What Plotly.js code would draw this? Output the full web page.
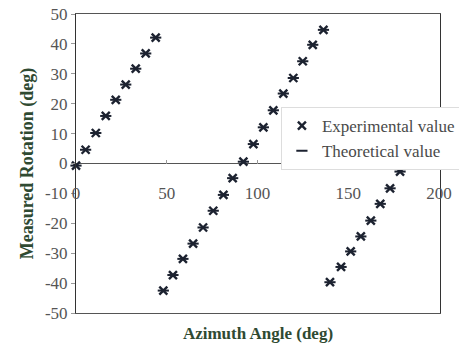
<!DOCTYPE html>
<html><head><meta charset="utf-8">
<script src="https://cdn.plot.ly/plotly-3.0.1.min.js"></script>
<style>html,body{margin:0;padding:0;background:#fff}#chart{width:459px;height:357px}</style>
</head><body><div id="chart"></div>
<script>
var azimuth = [0, 5.3, 10.9, 16.4, 21.9, 27.4, 32.9, 38.4, 43.9, 48.1, 53.4, 58.9, 64.5, 70.0, 75.6, 81.2, 86.3, 92.2, 97.7, 103.2, 108.7, 114.2, 119.7, 124.9, 130.4, 136.3, 139.9, 146.0, 151.3, 156.9, 162.4, 167.6, 173.0, 178.5];
var experimental = [-0.7, 4.6, 10.2, 15.9, 21.3, 26.4, 31.7, 36.8, 42.1, -42.5, -37.3, -31.9, -26.8, -21.4, -15.8, -10.5, -4.9, 0.6, 6.5, 12.1, 17.8, 23.4, 28.6, 34.2, 39.7, 44.7, -39.7, -34.6, -29.4, -24.4, -19.1, -13.5, -8.3, -2.7];
var theoretical = [-0.7, 4.6, 10.2, 15.9, 21.3, 26.4, 31.7, 36.8, 42.1, -42.5, -37.3, -31.9, -26.8, -21.4, -15.8, -10.5, -4.9, 0.6, 6.5, 12.1, 17.8, 23.4, 28.6, 34.2, 39.7, 44.7, -39.7, -34.6, -29.4, -24.4, -19.1, -13.5, -8.3, -2.7];
var xTicks = [0, 50, 100, 150, 200];
var yTicks = [-50, -40, -30, -20, -10, 0, 10, 20, 30, 40, 50];

var serif = "'Liberation Serif'";
var titleColor = '#2f4a32';
var traces = [
  {x: azimuth, y: experimental, name: 'Experimental value', type: 'scatter', mode: 'markers',
   xaxis: 'x2', yaxis: 'y', cliponaxis: false,
   marker: {symbol: 'x-thin-open', size: 8, color: '#1c2230', line: {width: 2.4, color: '#1c2230'}}},
  {x: azimuth, y: theoretical, name: 'Theoretical value', type: 'scatter', mode: 'markers',
   xaxis: 'x', yaxis: 'y', cliponaxis: false,
   marker: {symbol: 'line-ew-open', size: 8, color: '#1c2230', line: {width: 2, color: '#1c2230'}}}
];
var layout = {
  width: 459, height: 357,
  margin: {l: 76, r: 19, t: 14, b: 44, autoexpand: false},
  paper_bgcolor: '#fff', plot_bgcolor: '#fff',
  font: {family: serif, size: 17, color: '#555'},
  showlegend: true,
  legend: {xref: 'container', yref: 'container', x: 0.612, y: 0.70, xanchor: 'left', yanchor: 'top', bgcolor: '#fff',
           bordercolor: '#ddd', borderwidth: 1, font: {family: serif, size: 17, color: '#4a4a4a'},
           itemwidth: 30, tracegroupgap: 0},
  xaxis: {range: [0, 200.5], showgrid: false, zeroline: false, showline: true, mirror: true,
          linecolor: '#555', linewidth: 1, ticks: '', showticklabels: false,
          title: {text: 'Azimuth Angle (deg)', font: {family: serif, size: 17, color: titleColor, weight: 'bold'}, standoff: 14}},
  xaxis2: {range: [0, 200.5], overlaying: 'x', anchor: 'free', position: 0.5, side: 'bottom',
           showgrid: false, zeroline: false, showline: false,
           tickvals: xTicks, ticktext: xTicks.map(String), ticks: 'inside', ticklen: 4, tickcolor: '#999',
           ticklabelstandoff: 17, tickfont: {family: serif, size: 17, color: '#555'}},
  yaxis: {range: [-50, 50], showgrid: false, zeroline: true, zerolinecolor: '#555', zerolinewidth: 1,
          showline: true, mirror: true, linecolor: '#333', linewidth: 1,
          tickvals: yTicks, ticktext: yTicks.map(String), ticks: 'outside', ticklen: 4, tickcolor: '#999',
          tickfont: {family: serif, size: 17, color: '#555'},
          title: {text: 'Measured Rotation (deg)', font: {family: serif, size: 18, color: titleColor, weight: 'bold'}, standoff: 6}}
};
Plotly.newPlot('chart', traces, layout, {displayModeBar: false, staticPlot: true});
</script></body></html>
